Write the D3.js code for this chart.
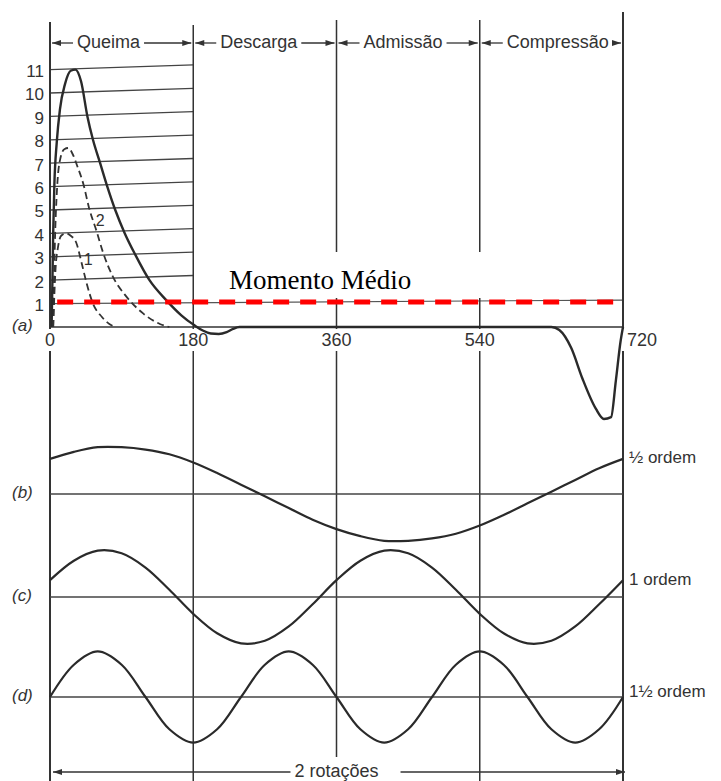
<!DOCTYPE html>
<html>
<head>
<meta charset="utf-8">
<script src="https://cdn.jsdelivr.net/npm/d3@7"></script>
<style>
  body { margin: 0; background: #fff; }
  text { font-family: "Liberation Sans", Arial, sans-serif; fill: #333; }
  text.serif { font-family: "Liberation Serif", "Times New Roman", serif; fill: #000; }
</style>
</head>
<body>
<svg id="chart" width="721" height="781"></svg>
<script>
// ---- data -------------------------------------------------------------
// four-stroke cycle phases (crank degrees)
const phaseNames  = ["Queima", "Descarga", "Admissão", "Compressão"];
const phaseBounds = [0, 180, 360, 540, 720];
const xTickLabels = ["0", "180", "360", "540", "720"];
const yTicks      = [1, 2, 3, 4, 5, 6, 7, 8, 9, 10, 11];

// torque vs crank angle [deg, torque]
const torqueTotal = [
  [2, 0], [3, 1.9], [4, 4.0], [5.5, 6.1], [8.5, 7.9], [12.5, 9.3], [19, 10.4],
  [26, 10.95], [32, 11.0], [39, 10.5], [47, 9.0], [54, 8.0], [63, 7.0],
  [72, 6.0], [82, 5.0], [94, 4.0], [107, 3.1], [125, 2.0], [146, 1.15],
  [165, 0.5], [182, 0.06], [192, -0.15], [202, -0.28], [212, -0.3],
  [222, -0.22], [230, -0.08], [238, 0], [360, 0], [540, 0], [630, 0],
  [640, -0.13], [655, -0.9], [669, -2.2], [686, -3.5], [696, -3.93],
  [705, -3.85], [711, -2.3], [717, -0.6], [720, 0]
];
const torqueCurve2 = [
  [4, 0], [6, 3.4], [9, 6.0], [13, 7.2], [18, 7.6], [23, 7.65], [29, 7.35],
  [34, 6.9], [42, 6.1], [49, 5.1], [58.5, 4.1], [67, 3.15], [79, 2.15],
  [96, 1.3], [117, 0.58], [138, 0.13], [150, 0]
];
const torqueCurve1 = [
  [4, 0], [7, 2.5], [10, 3.4], [14, 3.9], [20, 4.0], [26, 3.9], [33, 3.6],
  [40, 2.7], [46, 1.87], [54, 1.0], [65, 0.44], [75, 0.12], [82, 0]
];
const curveTags = [{ tag: "2", deg: 63, val: 4.5 }, { tag: "1", deg: 48, val: 2.85 }];
const meanTorque = 1.07;

// harmonic components, sampled every 30 degrees from 0 to 720
const harmonicAngles = d3.range(0, 721, 30);
const harmonicHalf = [1.5, 1.8, 2.0, 2.0, 1.9, 1.7, 1.35, 0.9, 0.4, -0.1, -0.6, -1.1, -1.5,
  -1.8, -2.0, -2.0, -1.9, -1.7, -1.35, -0.9, -0.4, 0.1, 0.6, 1.1, 1.5];
const harmonicOne = [0.72, 1.55, 1.98, 1.87, 1.26, 0.31, -0.72, -1.55, -1.98, -1.87, -1.26, -0.31,
  0.72, 1.55, 1.98, 1.87, 1.26, 0.31, -0.72, -1.55, -1.98, -1.87, -1.26, -0.31, 0.72];
const harmonicOneHalf = [0, 1.38, 1.95, 1.38, 0, -1.38, -1.95, -1.38, 0, 1.38, 1.95, 1.38, 0,
  -1.38, -1.95, -1.38, 0, 1.38, 1.95, 1.38, 0, -1.38, -1.95, -1.38, 0];
const panelTags   = ["(a)", "(b)", "(c)", "(d)"];
const orderLabels = ["½ ordem", "1 ordem", "1½ ordem"];

// ---- drawing ----------------------------------------------------------
const svg = d3.select("#chart");
const ink = "#333";

const x = d3.scaleLinear().domain([0, 720]).range([50, 623]);
const y = d3.scaleLinear().domain([0, 11]).range([327, 69.6]);

const g = svg.append("g");

// horizontal grid of the burning stroke
yTicks.filter(v => v > 1).forEach(v => {
  g.append("line")
    .attr("x1", x(0)).attr("y1", y(v))
    .attr("x2", x(180)).attr("y2", y(v + 0.2))
    .attr("stroke", "#444").attr("stroke-width", 1.3);
});
// unit line across the full cycle
g.append("line")
  .attr("x1", x(0)).attr("y1", y(1))
  .attr("x2", x(720)).attr("y2", y(1.15))
  .attr("stroke", "#555").attr("stroke-width", 1.1);

// y tick labels
g.selectAll("text.ytick").data(yTicks).join("text")
  .attr("class", "ytick")
  .attr("x", x(0) - 6).attr("y", v => y(v) + 3)
  .attr("text-anchor", "end").attr("dominant-baseline", "middle")
  .attr("font-size", 17)
  .text(v => v);

// phase boundary lines
phaseBounds.forEach((b, i) => {
  const top = b === 720 ? 12 : (b === 0 ? 22 : (b === 180 ? 25 : 20));
  g.append("line")
    .attr("x1", x(b)).attr("x2", x(b))
    .attr("y1", top).attr("y2", y(0) + 2)
    .attr("stroke", ink).attr("stroke-width", i === 0 || i === 4 ? 2 : 1.5);
  const bottom = b === 360 ? 757 : 781;
  g.append("line")
    .attr("x1", x(b)).attr("x2", x(b))
    .attr("y1", 351).attr("y2", bottom)
    .attr("stroke", ink).attr("stroke-width", i === 0 || i === 4 ? 2 : 1.5);
});

// phase header arrows
function arrowHead(sel, tipX, tipY, dir) {
  sel.append("path")
    .attr("d", `M${tipX},${tipY} L${tipX - dir * 9},${tipY - 3} L${tipX - dir * 9},${tipY + 3} Z`)
    .attr("fill", ink);
}
const headerY = 43;
phaseNames.forEach((name, i) => {
  const a = x(phaseBounds[i]), b = x(phaseBounds[i + 1]);
  const t = g.append("text")
    .attr("x", a + 27).attr("y", headerY)
    .attr("dominant-baseline", "middle")
    .attr("font-size", 18)
    .text(name);
  const w = t.node().getComputedTextLength();
  g.append("line").attr("x1", a + 2).attr("x2", a + 23)
    .attr("y1", headerY).attr("y2", headerY).attr("stroke", ink).attr("stroke-width", 1.3);
  arrowHead(g, a + 2, headerY, -1);
  g.append("line").attr("x1", a + 31 + w).attr("x2", b - 2)
    .attr("y1", headerY).attr("y2", headerY).attr("stroke", ink).attr("stroke-width", 1.3);
  arrowHead(g, b - 2, headerY, 1);
});

// label box for the mean-torque text
g.append("rect")
  .attr("x", 199).attr("y", 252).attr("width", 413).attr("height", 46)
  .attr("fill", "#fff");
g.append("text")
  .attr("class", "serif")
  .attr("x", 229).attr("y", 289)
  .attr("font-size", 27)
  .text("Momento Médio");

// zero line
g.append("line")
  .attr("x1", x(0)).attr("x2", x(720))
  .attr("y1", y(0)).attr("y2", y(0))
  .attr("stroke", ink).attr("stroke-width", 1.6);

// x tick labels
xTickLabels.forEach((lab, i) => {
  const last = i === xTickLabels.length - 1;
  g.append("text")
    .attr("x", last ? x(phaseBounds[i]) + 4 : x(phaseBounds[i]))
    .attr("y", 341)
    .attr("text-anchor", last ? "start" : "middle")
    .attr("dominant-baseline", "middle")
    .attr("font-size", 18)
    .text(lab);
});

// torque curves
const torqueLine = d3.line()
  .x(d => x(d[0])).y(d => y(d[1]))
  .curve(d3.curveMonotoneX);

g.append("path").attr("d", torqueLine(torqueCurve1))
  .attr("fill", "none").attr("stroke", ink).attr("stroke-width", 1.8)
  .attr("stroke-dasharray", "7,4");
g.append("path").attr("d", torqueLine(torqueCurve2))
  .attr("fill", "none").attr("stroke", ink).attr("stroke-width", 1.8)
  .attr("stroke-dasharray", "7,4");
g.append("path").attr("d", torqueLine(torqueTotal))
  .attr("fill", "none").attr("stroke", "#2a2a2a").attr("stroke-width", 2.4);

curveTags.forEach(c => {
  g.append("text")
    .attr("x", x(c.deg)).attr("y", y(c.val))
    .attr("text-anchor", "middle").attr("dominant-baseline", "middle")
    .attr("font-size", 16)
    .text(c.tag);
});

// mean torque (red dashes)
g.append("line")
  .attr("x1", x(9)).attr("x2", x(720))
  .attr("y1", y(meanTorque)).attr("y2", y(meanTorque))
  .attr("stroke", "#ff0000").attr("stroke-width", 5)
  .attr("stroke-dasharray", "16,11");

// harmonic panels
const panelBase = [494, 597, 697];
const harmonics = [harmonicHalf, harmonicOne, harmonicOneHalf];
const unit = 23.4;

harmonics.forEach((vals, i) => {
  const base = panelBase[i];
  const yh = d3.scaleLinear().domain([-1, 1]).range([base + unit, base - unit]);
  g.append("line")
    .attr("x1", x(0)).attr("x2", x(720))
    .attr("y1", base).attr("y2", base)
    .attr("stroke", "#444").attr("stroke-width", 1.4);
  const line = d3.line()
    .x((d, k) => x(harmonicAngles[k])).y(d => yh(d))
    .curve(d3.curveCatmullRom.alpha(0.5));
  g.append("path").attr("d", line(vals))
    .attr("fill", "none").attr("stroke", "#2a2a2a").attr("stroke-width", 2.2);
  g.append("text")
    .attr("x", x(720) + 6).attr("y", yh(vals[vals.length - 1]) + (i === 2 ? -4 : 0))
    .attr("dominant-baseline", "middle")
    .attr("font-size", 17)
    .text(orderLabels[i]);
});

// panel tags
[327, 494, 597, 697].forEach((py, i) => {
  g.append("text")
    .attr("x", 12).attr("y", py)
    .attr("dominant-baseline", "middle")
    .attr("font-size", 17).attr("font-style", "italic")
    .text(panelTags[i]);
});

// two-revolution span arrow
const spanY = 772;
const spanText = g.append("text")
  .attr("x", x(360)).attr("y", spanY)
  .attr("text-anchor", "middle").attr("dominant-baseline", "middle")
  .attr("font-size", 18)
  .text("2 rotações");
const sw = spanText.node().getComputedTextLength();
g.append("line").attr("x1", x(0) + 3).attr("x2", x(360) - sw / 2 - 4)
  .attr("y1", spanY).attr("y2", spanY).attr("stroke", ink).attr("stroke-width", 1.3);
g.append("line").attr("x1", x(360) + sw / 2 + 22).attr("x2", x(720) + 2)
  .attr("y1", spanY).attr("y2", spanY).attr("stroke", ink).attr("stroke-width", 1.3);
arrowHead(g, x(0) + 3, spanY, -1);
arrowHead(g, x(720) + 2, spanY, 1);
</script>
</body>
</html>
